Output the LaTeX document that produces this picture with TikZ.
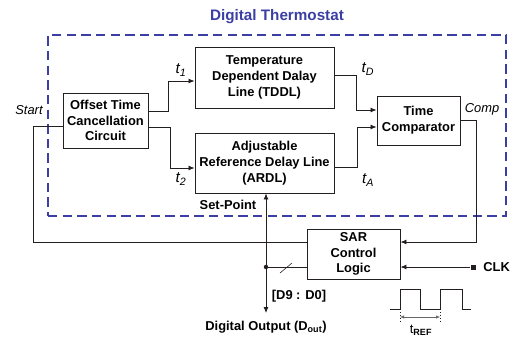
\documentclass[tikz,border=0pt]{standalone}
\usepackage{fontspec}
\setmainfont{Liberation Sans}
\usepackage{xcolor}
\usepackage{tikz}
\usetikzlibrary{arrows.meta, calc}
\definecolor{thermoblue}{HTML}{3B3FA3}
\definecolor{wireline}{HTML}{231F20}

\begin{document}
\begin{tikzpicture}[
  x=0.03cm, y=-0.03cm,
  blk/.style={rectangle, draw=wireline, line width=0.8pt, align=center, inner sep=2pt, font=\fontsize{11}{13.5}\selectfont\bfseries},
  frame/.style={rectangle, draw=thermoblue, line width=1.2pt, dash pattern=on 8pt off 4.5pt, minimum width=13.74cm, minimum height=5.43cm, inner sep=0pt},
  ttl/.style={font=\fontsize{13}{15}\selectfont\bfseries, text=thermoblue},
  ar/.style={-{Latex[length=1.8mm, width=1.5mm]}, line width=0.7pt, draw=wireline},
  dual/.style={{Latex[length=1.8mm, width=1.5mm]}-{Latex[length=1.8mm, width=1.5mm]}, line width=0.7pt, draw=wireline},
  wire/.style={line width=0.7pt, draw=wireline},
  sig/.style={font=\fontsize{13}{13}\selectfont\itshape, inner sep=1pt},
  port/.style={font=\fontsize{11}{12}\selectfont\itshape, inner sep=1pt},
  lbl/.style={font=\fontsize{11}{12}\selectfont\bfseries, inner sep=1pt},
  clksq/.style={rectangle, fill=wireline, minimum size=0.15cm, inner sep=0pt}
]
\useasboundingbox (0,0) rectangle (510,339);

\node[frame] (dt) at (277,125.5) {};
\node[ttl] (title) at (277,17) {Digital Thermostat};

\node[blk, minimum width=2.55cm, minimum height=1.65cm] (oc) at (105.5,120.5) {Offset Time\\Cancellation\\Circuit};
\node[blk, minimum width=4.17cm, minimum height=1.83cm] (tddl) at (264.5,77.5) {Temperature\\Dependent Dalay\\Line (TDDL)};
\node[blk, minimum width=4.17cm, minimum height=1.8cm] (ardl) at (264.5,163) {Adjustable\\Reference Delay Line\\(ARDL)};
\node[blk, minimum width=2.49cm, minimum height=1.47cm] (tc) at (418.5,120.5) {Time\\Comparator};
\node[blk, minimum width=2.79cm, minimum height=1.5cm] (sar) at (353.5,254) {SAR\\Control\\Logic};

\node[sig] (lt1) at (181,70) {t\textsubscript{1}};
\node[sig] (lt2) at (181,179) {t\textsubscript{2}};
\node[sig] (ltd) at (368,69) {t\textsubscript{D}};
\node[sig] (lta) at (368,180) {t\textsubscript{A}};
\node[port] (start) at (29,110) {Start};
\node[port] (comp) at (482,109) {Comp};

\draw[ar] ($(oc.east)+(0,-9.5)$) -- (168,111) -- (168,81) -- ($(tddl.west)+(0,3.5)$);
\draw[ar] ($(oc.east)+(0,6.5)$) -- (170,127) -- (170,168) -- ($(ardl.west)+(0,5)$);
\draw[ar] ($(tddl.east)+(0,-2.5)$) -- (356,75) -- (356,110) -- ($(tc.west)+(0,-10.5)$);
\draw[ar] ($(ardl.east)+(0,4)$) -- (357,167) -- (357,127) -- ($(tc.west)+(0,6.5)$);
\draw[ar] ($(tc.east)+(0,-0.5)$) -- (476,120) -- (476,242) -- ($(sar.east)+(0,-12)$);
\draw[wire] ($(oc.west)+(0,5.5)$) -- (33,126) -- (33,242) -- ($(sar.west)+(0,-12)$);

\coordinate (bus) at (266,267);
\coordinate (dend) at (266,313);
\draw[dual] ($(ardl.south)+(1.5,0)$) -- (dend);
\fill[wireline] (bus) circle (1.9pt);
\draw[wire] (bus) -- (sar.west |- bus);
\draw[wireline, line width=0.5pt] (280,273) -- (292,263);
\node[lbl] (setp) at (228,205) {Set-Point};
\node[lbl] (dbus) at (299,296) {[D9 : D0]};
\node[lbl] (dout) at (266,327) {Digital Output (D\textsubscript{out})};

\node[clksq] (clk) at (473,267) {};
\draw[ar] (clk) -- (sar.east |- clk);
\node[lbl, anchor=west] (clkt) at (482,267) {CLK};

\draw[wire, line width=0.6pt] (390,309) -- (400,309) -- (400,289) -- (420,289) -- (420,309) -- (440,309) -- (440,289) -- (462,289) -- (462,309) -- (471,309);
\draw[wireline, dotted, line width=0.5pt] (400,309) -- (400,323);
\draw[wireline, dotted, line width=0.5pt] (440,309) -- (440,323);
\draw[{Latex[length=1.2mm, width=1mm]}-{Latex[length=1.2mm, width=1mm]}, line width=0.4pt, draw=black!60] (400,317) -- (440,317);
\node[font=\fontsize{11}{12}\selectfont, inner sep=1pt] (tref) at (421,330) {t\textsubscript{\bfseries REF}};

\end{tikzpicture}
\end{document}
